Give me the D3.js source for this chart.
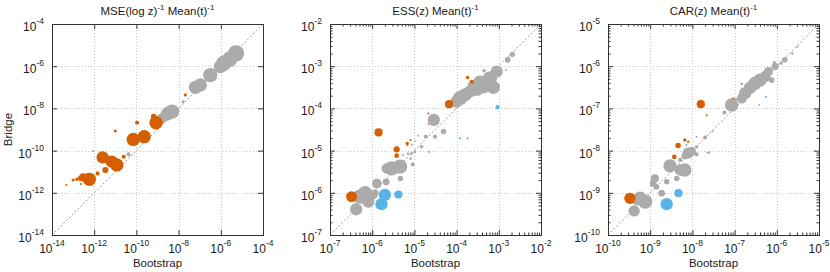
<!DOCTYPE html>
<html lang="en">
<head>
    <meta charset="UTF-8">
    <title>Bootstrap vs Bridge</title>
    <style>
        body { margin: 0; background: #fff; }
        svg text { font-family: "Liberation Sans", Arial, Helvetica, sans-serif; fill: #1a1a1a; }
        .axis path { display: none; }
        .axis line { stroke: #333; stroke-width: 1; }
        .grid line { stroke: #c8c8c8; stroke-width: 1; stroke-dasharray: 1,2; }
        .frame { fill: none; stroke: #333; stroke-width: 1; }
        .diag { stroke: #888; stroke-width: 0.8; stroke-dasharray: 2,2; }
    </style>
    <script src="https://cdn.jsdelivr.net/npm/d3@7"></script>
</head>
<body>
<svg id="main" width="830" height="272"></svg>
<script>

    // all values are log10 of the quantity; size is relative marker size
    var mseBoot   = [-5.28,-5.58,-5.86,-6.02,-6.50,-6.97,-7.20,-8.31,-8.49,-8.58,-8.79,-7.79,-10.37,
                     -7.68,-9.18,-9.07,-9.97,-11.0,-9.63,-10.15,-10.60,-11.60,-11.17,-10.93,-11.47,-11.84,-12.23,-12.52,-12.66,-12.82,-13.0,-13.32,-12.63,-12.06];
    var mseBridge = [-5.39,-5.67,-5.86,-6.02,-6.42,-6.89,-7.00,-8.15,-8.23,-8.31,-8.47,-7.68,-10.18,
                     -7.36,-8.39,-8.68,-8.68,-9.07,-9.34,-9.47,-10.29,-10.32,-10.52,-10.68,-10.92,-11.08,-11.36,-11.27,-11.31,-11.36,-11.39,-11.63,-11.58,-10.02];
    var mseSize   = [8,7.5,7.5,6.5,7,6.5,6.5,7,6.5,6,5,1.5,2,
                     1.5,2.7,6.5,2,1.5,6.5,6.5,2,6,6,6.5,3,2,6.5,4,2.5,1.7,1.5,1,1,0.8];
    var mseGroup  = "nnnnnnnnnnnnnhhhhhhhhhhhhhhhhhhhhh".split("");

    var essBoot   = [-2.68,-2.79,-2.83,-3.05,-3.21,-3.37,-3.13,-3.52,-3.68,-3.80,-3.92,-4.00,-3.35,-4.54,-4.31,-4.51,-4.73,-4.91,-4.99,-5.06,
                     -4.83,-5.17,-4.99,-5.07,-5.15,-5.09,-5.04,-5.27,-5.34,-5.54,-5.66,-5.33,-5.67,-5.89,-5.97,-5.93,-6.17,-6.29,-6.09,-6.38,
                     -3.45,-3.60,
                     -6.49,-5.85,-5.42,-5.42,-5.17,-5.09,-4.67,-4.67,-4.18,-3.74,-3.64,
                     -5.78,-5.70,-5.38,-4.65,-3.92,-3.74,-3.03];
    var essBridge = [-2.72,-2.85,-3.09,-3.13,-3.29,-3.45,-3.50,-3.56,-3.60,-3.68,-3.76,-3.84,-3.11,-4.27,-4.55,-4.67,-4.67,-4.65,-4.78,-4.86,
                     -4.91,-4.88,-5.03,-5.07,-5.07,-5.19,-5.33,-5.11,-5.38,-5.42,-5.42,-5.66,-5.74,-5.78,-6.05,-6.00,-6.01,-6.09,-6.21,-6.39,
                     -3.38,-3.48,
                     -6.09,-4.57,-4.97,-5.12,-4.83,-4.75,-4.12,-4.37,-3.90,-3.27,-3.37,
                     -6.27,-6.05,-6.04,-5.03,-4.71,-4.71,-3.97];
    var essSize   = [2.5,2.8,1,6,7,8,6.5,6,6,6.5,7,6,1.7,6,2.7,2,2,1,1,1,
                     1.7,1,1.3,1.3,1.3,1.3,2,1,7,7,5,2.7,3.3,4.7,4,3.3,7,7,6,6,
                     6.5,6,
                     5.3,4,3,2.3,1.7,1,1,0.8,4,1.7,2,
                     6,6,4,1,1,1,2];
    var essGroup  = "nnnnnnnnnnnnnnnnnnnnnnnnnnnnnnnnnnnnnnnnnnhhhhhhhhhhhlllllll".split("");

    var carBoot   = [-5.51,-5.63,-5.81,-5.90,-6.06,-6.04,-6.20,-6.28,-6.40,-6.52,-6.64,-6.75,-6.83,-6.12,-6.42,-7.07,-7.24,-6.99,-7.52,-7.70,
                     -7.90,-7.90,-8.10,-8.14,-8.10,-8.02,-8.18,-7.90,-8.29,-8.53,-8.29,-8.18,-8.37,-8.61,-8.89,-8.93,-8.85,-8.73,-9.24,-9.12,-9.32,-9.38,
                     -9.48,-7.80,-7.66,-7.03,-6.83,-8.34,-8.43,-8.18,-8.10,
                     -8.61,-8.33,-7.64,-7.60,-6.26];
    var carBridge = [-5.54,-5.70,-5.85,-5.93,-5.92,-6.01,-6.13,-6.25,-6.33,-6.41,-6.52,-6.64,-6.76,-6.33,-6.92,-6.92,-7.10,-6.80,-7.54,-7.69,
                     -7.67,-7.91,-7.79,-7.87,-8.06,-8.02,-8.13,-8.09,-8.22,-8.36,-8.46,-8.46,-8.66,-8.74,-8.66,-8.78,-8.86,-9.01,-9.13,-9.21,-9.17,-9.43,
                     -9.13,-6.90,-7.16,-6.76,-6.42,-7.88,-8.15,-7.75,-7.79,
                     -9.27,-9.01,-8.05,-8.04,-6.73];
    var carSize   = [1,1.3,2.7,1.7,1.7,3.5,4.5,5.5,6.5,6.5,6,6,5,2.7,1,6.5,2,2,1,2,
                     1,1.7,1.3,1,5.5,4.5,3.3,2,2,6.5,5.5,6.5,2.7,2.7,4,3.3,2.7,3.3,6.5,7,5,5.5,
                     5.5,4,1,1,1,2.7,2.3,1.7,1,
                     6,4,1,1,1];
    var carGroup  = "nnnnnnnnnnnnnnnnnnnnnnnnnnnnnnnnnnnnnnnnnnhhhhhhhhhlllll".split("");

    var titles = [
        [["MSE(log z)", 0], ["-1", 1], [" Mean(t)", 0], ["-1", 1]],
        [["ESS(z) Mean(t)", 0], ["-1", 1]],
        [["CAR(z) Mean(t)", 0], ["-1", 1]]
    ];
    var ranges = [[-14, -4, 2], [-7, -2, 1], [-10, -5, 1]];

    var panels = [
        {boot: mseBoot, bridge: mseBridge, size: mseSize, group: mseGroup},
        {boot: essBoot, bridge: essBridge, size: essSize, group: essGroup},
        {boot: carBoot, bridge: carBridge, size: carSize, group: carGroup}
    ];

    var svg = d3.select("#main"),
        lefts = [52, 330, 608],
        plotTop = 24,
        width = 211,
        height = 211;

    var colour = d3.scaleOrdinal()
        .domain(["n", "h", "l"])
        .range(["#ababab", "#d55e00", "#56b4e9"]);
    var radius = d3.scaleLinear().domain([0, 8]).range([0, 8.2]);

    function pow10(v) { return Math.pow(10, v); }

    function superText(sel, parts, big, small, rise) {
        parts.forEach(function(p, i) {
            var t = sel.append("tspan").text(p[0]).style("font-size", (p[1] ? small : big) + "px");
            if (p[1]) t.attr("dy", -rise);
            else if (i > 0 && parts[i - 1][1]) t.attr("dy", rise);
        });
    }

    panels.forEach(function(pd, k) {
        var lo = ranges[k][0], hi = ranges[k][1], step = ranges[k][2];
        var x = d3.scaleLog().domain([pow10(lo), pow10(hi)]).range([0, width]);
        var y = d3.scaleLog().domain([pow10(lo), pow10(hi)]).range([height, 0]);

        var major = d3.range(lo, hi + 0.001, step).map(pow10);
        var minor = [];
        if (step === 1) {
            d3.range(lo, hi).forEach(function(e) {
                for (var m = 2; m < 10; m++) minor.push(m * pow10(e));
            });
        }

        var g = svg.append("g").attr("transform", "translate(" + lefts[k] + "," + plotTop + ")");

        // grid
        var grid = g.append("g").attr("class", "grid");
        grid.selectAll(".gx").data(major.slice(1, -1)).enter().append("line")
            .attr("x1", function(d) { return Math.round(x(d)) + 0.5; })
            .attr("x2", function(d) { return Math.round(x(d)) + 0.5; })
            .attr("y1", 0).attr("y2", height);
        grid.selectAll(".gy").data(major.slice(1, -1)).enter().append("line")
            .attr("y1", function(d) { return Math.round(y(d)) + 0.5; })
            .attr("y2", function(d) { return Math.round(y(d)) + 0.5; })
            .attr("x1", 0).attr("x2", width);

        // y = x
        g.append("line").attr("class", "diag")
            .attr("x1", x(pow10(lo))).attr("y1", y(pow10(lo)))
            .attr("x2", x(pow10(hi))).attr("y2", y(pow10(hi)));

        // ticks on all four sides, pointing in
        [[d3.axisBottom, x, "translate(0," + height + ")"],
         [d3.axisTop, x, "translate(0,0)"],
         [d3.axisLeft, y, "translate(0,0)"],
         [d3.axisRight, y, "translate(" + width + ",0)"]].forEach(function(a) {
            g.append("g").attr("class", "axis").attr("transform", a[2])
                .call(a[0](a[1]).tickValues(major).tickSize(-5).tickFormat(""));
            if (minor.length) {
                g.append("g").attr("class", "axis").attr("transform", a[2])
                    .call(a[0](a[1]).tickValues(minor).tickSize(-2.5).tickFormat(""));
            }
        });

        g.append("rect").attr("class", "frame")
            .attr("x", 0.5).attr("y", 0.5).attr("width", width).attr("height", height);

        // points
        var pts = d3.range(pd.boot.length).map(function(i) {
            return {x: pow10(pd.boot[i]), y: pow10(pd.bridge[i]), s: pd.size[i], g: pd.group[i]};
        });
        ["n", "h", "l"].forEach(function(grp) {
            g.append("g").selectAll("circle")
                .data(pts.filter(function(d) { return d.g === grp; }))
                .enter().append("circle")
                .attr("cx", function(d) { return x(d.x); })
                .attr("cy", function(d) { return y(d.y); })
                .attr("r", function(d) { return radius(d.s); })
                .attr("fill", colour(grp));
        });

        // tick labels
        major.forEach(function(v, i) {
            var e = lo + i * step;
            var tl = g.append("text").attr("x", -8).attr("y", y(v) + 7).attr("text-anchor", "end");
            superText(tl, [["10", 0], [String(e), 1]], 12, 8.5, 7);
            var tb = g.append("text").attr("x", x(v)).attr("y", height + 18).attr("text-anchor", "middle");
            superText(tb, [["10", 0], [String(e), 1]], 12, 8.5, 7);
        });

        var tt = g.append("text").attr("x", width / 2).attr("y", -9).attr("text-anchor", "middle");
        superText(tt, titles[k], 11.5, 8, 5);

        g.append("text").attr("x", width / 2).attr("y", height + 32)
            .attr("text-anchor", "middle").style("font-size", "11.5px").text("Bootstrap");

        if (k === 0) {
            g.append("text")
                .attr("transform", "translate(" + (-lefts[0] + 12) + "," + (height / 2) + ") rotate(-90)")
                .attr("text-anchor", "middle").style("font-size", "11.5px").text("Bridge");
        }
    });

</script>
</body>
</html>
